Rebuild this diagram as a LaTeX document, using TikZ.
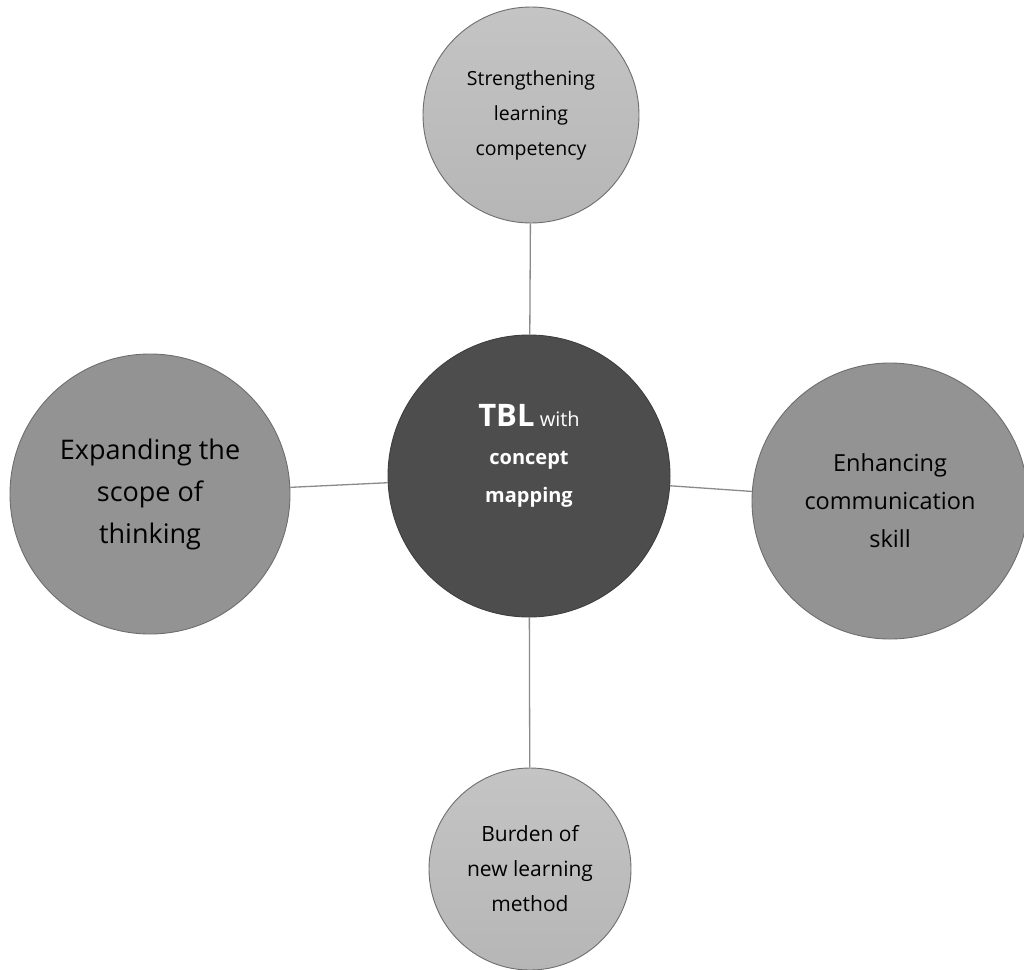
\documentclass[tikz,border=0pt]{standalone}
\usepackage{fontspec}
\setmainfont{Open Sans}
\definecolor{linkgray}{HTML}{8A8A8A}
\definecolor{rimgray}{HTML}{6E6E6E}
\definecolor{lightfill}{HTML}{C4C4C4}
\definecolor{lightfillb}{HTML}{B6B6B6}
\definecolor{midfill}{HTML}{939393}
\definecolor{hubfill}{HTML}{4D4D4D}
\tikzset{
  bubble/.style={circle, draw=rimgray, line width=0.9pt, inner sep=0pt,
    align=center, text=black},
  lightbubble/.style={bubble, top color=lightfill, bottom color=lightfillb},
  midbubble/.style={bubble, fill=midfill},
  hub/.style={bubble, fill=hubfill, draw=hubfill!80!black, text=white},
  link/.style={draw=linkgray, line width=1.3pt}
}
\begin{document}
\begin{tikzpicture}[x=1pt,y=-1pt]
  \useasboundingbox (0,0) rectangle (1024,969);
  % central concept
  \node[hub, minimum size=282pt] (hubc) at (529,476) {};
  \node[text=white, align=center, font=\fontsize{20}{38}\selectfont] (hubt) at (529,456)
    {{\fontsize{31}{38}\selectfont\bfseries TBL} with\\ \textbf{concept}\\ \textbf{mapping}};
  % surrounding outcomes
  \node[lightbubble, minimum size=216pt, font=\fontsize{19.5}{35}\selectfont] (top) at (531,115)
    {Strengthening\\ learning\\ competency};
  \node[midbubble, minimum size=280pt, font=\fontsize{27}{42}\selectfont] (left) at (150,494)
    {Expanding the\\ scope of\\ thinking};
  \node[midbubble, minimum size=276pt, font=\fontsize{23.5}{38}\selectfont] (right) at (890,501)
    {Enhancing\\ communication\\ skill};
  \node[lightbubble, minimum size=202pt, font=\fontsize{21}{35}\selectfont] (bottom) at (530,869)
    {Burden of\\ new learning\\ method};
  % connectors
  \draw[link] (hubc) -- (top);
  \draw[link] (hubc) -- (left);
  \draw[link] (hubc) -- (right);
  \draw[link] (hubc) -- (bottom);
\end{tikzpicture}
\end{document}
